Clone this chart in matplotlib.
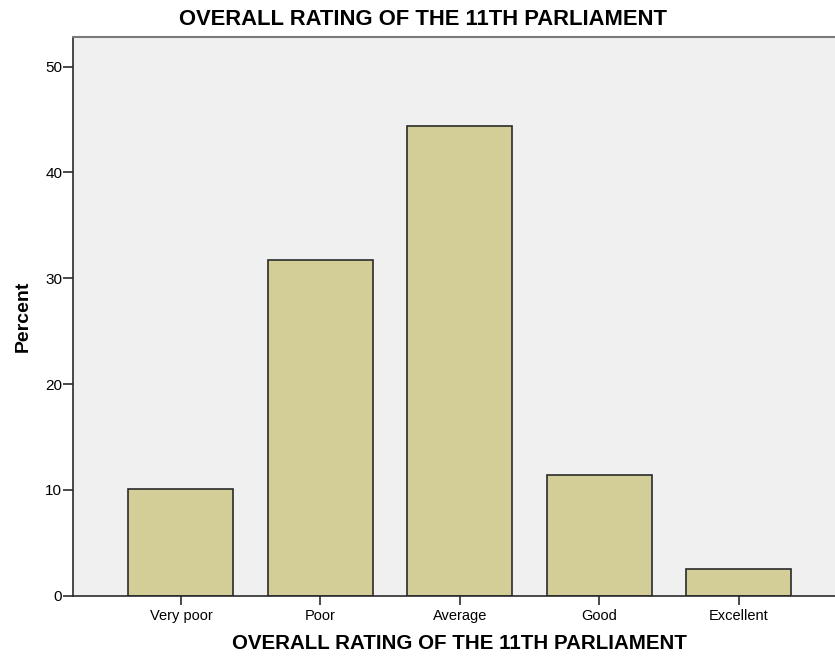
import matplotlib.pyplot as plt
import numpy as np

plt.rcParams["font.family"] = ["Liberation Sans", "DejaVu Sans"]

categories = ["Very poor", "Poor", "Average", "Good", "Excellent"]
percent = [10.1, 31.7, 44.4, 11.4, 2.5]
y_ticks = [0, 10, 20, 30, 40, 50]

title = "OVERALL RATING OF THE 11TH PARLIAMENT"

fig = plt.figure(figsize=(8.35, 6.58), dpi=100)
ax = fig.add_axes([0.0871, 0.0947, 0.9129, 0.8491])
ax.set_facecolor("#F0F0F0")

x = np.arange(len(categories))
ax.bar(x, percent, width=0.753, color="#D3CE97", edgecolor="#2b2b2b",
       linewidth=1.2, zorder=2)

ax.set_xlim(-0.776, len(categories) - 1 + 0.69)
ax.set_ylim(0, 52.8)
ax.set_yticks(y_ticks)
ax.set_xticks(x)
ax.set_xticklabels(categories)

ax.tick_params(axis="y", length=7, width=1.2, color="#2b2b2b", labelsize=11,
               pad=0.5)
ax.tick_params(axis="x", length=6.5, width=1.2, color="#2b2b2b", labelsize=10.5,
               pad=3)

for side in ["left", "bottom"]:
    ax.spines[side].set_color("#2b2b2b")
    ax.spines[side].set_linewidth(1.2)
ax.spines["top"].set_color("#7a7a7a")
ax.spines["top"].set_linewidth(1.5)
ax.spines["right"].set_visible(False)

ax.set_ylabel("Percent", fontsize=14, fontweight="bold", labelpad=10)
ax.set_xlabel(title, fontsize=14.8, fontweight="bold")
ax.xaxis.set_label_coords(0.507, -0.068)
fig.text(423 / 835, 1 - 19.5 / 658, title, ha="center", va="center",
         fontsize=15.8, fontweight="bold")

fig.savefig("out.png", dpi=100)
